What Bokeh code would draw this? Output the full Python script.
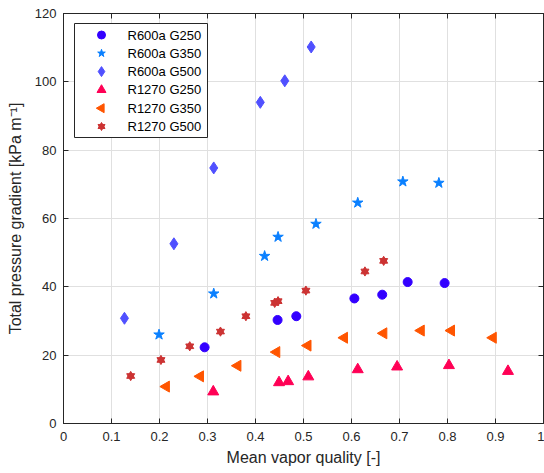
import numpy as np
from bokeh.plotting import figure
from bokeh.models import LinearAxis, Range1d, FixedTicker
from bokeh.core.properties import value
from bokeh.embed import file_html
from bokeh.resources import INLINE

# ---- data ----
r600a_g250_x = [0.294, 0.446, 0.485, 0.606, 0.664, 0.717, 0.794]
r600a_g250_y = [22.3, 30.3, 31.4, 36.6, 37.7, 41.4, 41.1]

r600a_g350_x = [0.199, 0.313, 0.419, 0.447, 0.526, 0.613, 0.707, 0.782]
r600a_g350_y = [26.0, 38.0, 49.0, 54.6, 58.4, 64.6, 70.8, 70.4]

r600a_g500_x = [0.127, 0.230, 0.313, 0.410, 0.461, 0.516]
r600a_g500_y = [30.8, 52.6, 74.8, 94.0, 100.3, 110.2]

r1270_g250_x = [0.312, 0.449, 0.468, 0.510, 0.613, 0.695, 0.803, 0.926]
r1270_g250_y = [9.3, 12.0, 12.3, 13.7, 15.8, 16.6, 17.0, 15.3]

r1270_g350_x = [0.214, 0.285, 0.363, 0.444, 0.509, 0.585, 0.667, 0.745, 0.808, 0.895]
r1270_g350_y = [10.8, 13.8, 16.9, 20.9, 22.8, 25.1, 26.4, 27.2, 27.2, 25.1]

r1270_g500_x = [0.140, 0.203, 0.263, 0.327, 0.380, 0.440, 0.447, 0.505, 0.628, 0.667]
r1270_g500_y = [13.9, 18.6, 22.6, 26.9, 31.4, 35.3, 35.8, 38.9, 44.5, 47.6]

series_labels = ["R600a G250", "R600a G350", "R600a G500",
                 "R1270 G250", "R1270 G350", "R1270 G500"]

x_ticks = [0, 0.1, 0.2, 0.3, 0.4, 0.5, 0.6, 0.7, 0.8, 0.9, 1]
y_ticks = [0, 20, 40, 60, 80, 100, 120]
x_tick_labels = {0: "0", 0.1: "0.1", 0.2: "0.2", 0.3: "0.3", 0.4: "0.4", 0.5: "0.5",
                 0.6: "0.6", 0.7: "0.7", 0.8: "0.8", 0.9: "0.9", 1: "1"}

FONT = "Liberation Sans"
AX = "#262626"
FW, FH = 480, 410
XMIN, XMAX, YMIN, YMAX = 0, 1, 0, 120

p = figure(frame_width=FW, frame_height=FH,
           x_range=Range1d(XMIN, XMAX), y_range=Range1d(YMIN, YMAX),
           output_backend="svg", toolbar_location=None,
           min_border_left=63, min_border_right=1, min_border_top=13, min_border_bottom=50)
p.background_fill_color = "white"
p.border_fill_color = "white"
p.outline_line_color = AX
p.outline_line_width = 1

for ax in (p.xaxis[0], p.yaxis[0]):
    ax.major_tick_in = 5
    ax.major_tick_out = 0
    ax.minor_tick_line_color = None
    ax.axis_line_color = AX
    ax.major_tick_line_color = AX
    ax.major_label_text_font = FONT
    ax.major_label_text_font_size = "13px"
    ax.major_label_text_color = AX
    ax.axis_label_text_font = FONT
    ax.axis_label_text_font_size = "16px"
    ax.axis_label_text_font_style = "normal"
    ax.axis_label_text_color = AX

p.xaxis.ticker = FixedTicker(ticks=x_ticks)
p.yaxis.ticker = FixedTicker(ticks=y_ticks)
p.xaxis.major_label_overrides = x_tick_labels
p.xaxis.axis_label = "Mean vapor quality [-]"
p.yaxis.axis_label = "Total pressure gradient [kPa m\u207b\u00b9]"
p.xaxis.major_label_standoff = 8
p.yaxis.major_label_standoff = 7
p.xaxis.axis_label_standoff = 5
p.yaxis.axis_label_standoff = 8

# ticks on top and right (box style), labels not drawn
top = LinearAxis(ticker=FixedTicker(ticks=x_ticks), major_tick_in=5, major_tick_out=0,
                 minor_tick_line_color=None, major_label_text_color=None,
                 major_label_text_font_size="1px",
                 major_label_standoff=0, axis_line_color=AX, major_tick_line_color=AX)
right = LinearAxis(ticker=FixedTicker(ticks=y_ticks), major_tick_in=5, major_tick_out=0,
                   minor_tick_line_color=None, major_label_text_color=None,
                   major_label_text_font_size="1px",
                   major_label_standoff=0, axis_line_color=AX, major_tick_line_color=AX)
p.add_layout(top, "above")
p.add_layout(right, "right")

p.xgrid.ticker = FixedTicker(ticks=x_ticks)
p.ygrid.ticker = FixedTicker(ticks=y_ticks)
p.grid.grid_line_color = "#e0e0e0"
p.grid.grid_line_width = 1

colors = ["#3300ff", "#0a80ff", "#5050ff", "#ff0055", "#ff5500", "#cc3333"]
c1, c2, c3, c4, c5, c6 = colors

p.scatter(r600a_g250_x, r600a_g250_y, marker="circle", size=9, fill_color=c1, line_color=c1)
p.scatter(r600a_g350_x, r600a_g350_y, marker="star", size=11, fill_color=c2, line_color=c2)
p.scatter(r600a_g500_x, r600a_g500_y, marker="diamond", size=12, fill_color=c3, line_color=c3)
p.scatter(r1270_g250_x, r1270_g250_y, marker="triangle", size=11, fill_color=c4, line_color=c4)
p.scatter(r1270_g350_x, r1270_g350_y, marker="triangle", angle=np.pi / 2, size=11,
          fill_color=c5, line_color=c5)
p.scatter(r1270_g500_x, r1270_g500_y, marker="triangle", size=8, fill_color=c6, line_color=c6)
p.scatter(r1270_g500_x, r1270_g500_y, marker="inverted_triangle", size=8,
          fill_color=c6, line_color=c6)

# ---- legend box, drawn from pixel offsets inside the plot frame ----
def fx(px):
    return XMIN + px / FW * (XMAX - XMIN)

def fy(py):  # py measured from the frame top
    return YMAX - py / FH * (YMAX - YMIN)

LB_L, LB_T, LB_R, LB_B = 11, 10, 144, 124   # legend box edges (px)
ROW0, ROW = 21.5, 18.3                       # first row centre, row pitch (px)
MARK_X, TEXT_X = 38, 64

p.quad(left=[fx(LB_L)], right=[fx(LB_R)], top=[fy(LB_T)], bottom=[fy(LB_B)],
       fill_color="white", line_color=AX, line_width=1)

rows_y = [fy(ROW0 + i * ROW) for i in range(6)]
mx = [fx(MARK_X)] * 6
p.scatter([mx[0]], [rows_y[0]], marker="circle", size=8, fill_color=c1, line_color=c1)
p.scatter([mx[1]], [rows_y[1]], marker="star", size=8, fill_color=c2, line_color=c2)
p.scatter([mx[2]], [rows_y[2]], marker="diamond", size=10, fill_color=c3, line_color=c3)
p.scatter([mx[3]], [rows_y[3]], marker="triangle", size=9, fill_color=c4, line_color=c4)
p.scatter([mx[4]], [rows_y[4]], marker="triangle", angle=np.pi / 2, size=9,
          fill_color=c5, line_color=c5)
p.scatter([mx[5]], [rows_y[5]], marker="triangle", size=7, fill_color=c6, line_color=c6)
p.scatter([mx[5]], [rows_y[5]], marker="inverted_triangle", size=7, fill_color=c6, line_color=c6)

p.text(x=[fx(TEXT_X)] * 6, y=rows_y, text=series_labels,
       text_font=value(FONT), text_font_size="13px", text_color="black",
       text_align="left", text_baseline="middle")

open("out.html", "w").write(file_html(p, INLINE))
